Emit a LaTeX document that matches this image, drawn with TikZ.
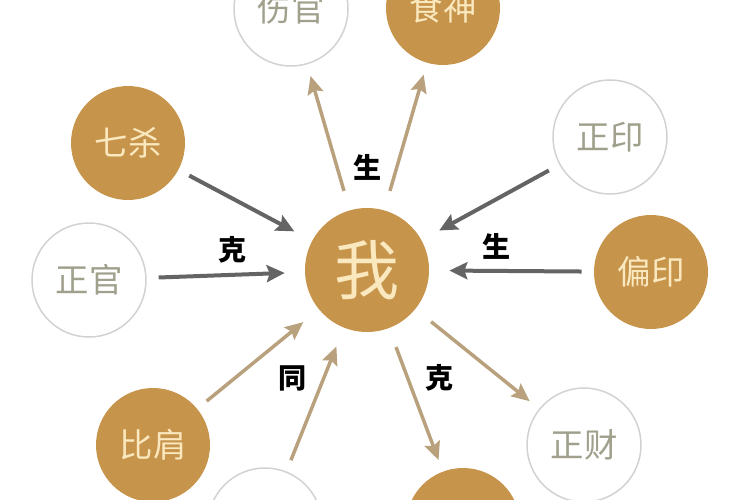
\documentclass[tikz,border=0pt]{standalone}
\usepackage{fontspec}
\newfontfamily\cjk{Noto Sans CJK SC}
\usepackage{xcolor}
\usetikzlibrary{arrows.meta}
\definecolor{goldfill}{HTML}{C7944C}
\definecolor{cream}{HTML}{FAE8BE}
\definecolor{inkgray}{HTML}{A0A08C}
\definecolor{ringgray}{HTML}{D2D2D2}
\definecolor{darkarrow}{HTML}{646464}
\definecolor{tanarrow}{HTML}{B8A17C}
\tikzset{
  goldnode/.style={circle,fill=goldfill,inner sep=0pt,minimum size=22.8mm,
    text=cream,font=\cjk\fontsize{19}{19}\selectfont},
  ringnode/.style={circle,fill=white,draw=ringgray,line width=0.3mm,inner sep=0pt,
    minimum size=22.8mm,text=inkgray,font=\cjk\fontsize{19}{19}\selectfont},
  selfnode/.style={goldnode,minimum size=24.8mm,font=\cjk\fontsize{37}{37}\selectfont},
  rel/.style={font=\cjk\bfseries\fontsize{16}{16}\selectfont},
  darr/.style={line width=0.8mm,draw=darkarrow,
    -{Stealth[length=3.6mm,width=3.4mm,inset=0.6mm]}},
  tarr/.style={line width=0.7mm,draw=tanarrow,
    -{Stealth[length=3.6mm,width=3.2mm,inset=0.6mm]}},
  tome/.style={shorten <=2.4mm,shorten >=4mm},
  fromme/.style={shorten <=4mm,shorten >=2.4mm}
}
\begin{document}
\begin{tikzpicture}[x=0.2mm,y=-0.2mm]
  \useasboundingbox (0,0) rectangle (750,500);
  \clip (0,0) rectangle (750,500);
  \node[selfnode] (wo) at (367,270) {我};
  \node[goldnode] (qisha) at (128,143) {七杀};
  \node[ringnode] (zhengguan) at (89,280) {正官};
  \node[ringnode] (zhengyin) at (610,137) {正印};
  \node[goldnode] (pianyin) at (651,272) {偏印};
  \node[ringnode] (shangguan) at (291,9) {伤官};
  \node[goldnode] (shishen) at (443,8) {食神};
  \node[goldnode] (bijian) at (153,445) {比肩};
  \node[ringnode] (jiecai) at (265,525) {};
  \node[goldnode] (piancai) at (463,525) {};
  \node[ringnode] (zhengcai) at (584,445) {正财};
  \draw[darr,tome] (qisha) -- (wo);
  \draw[darr,tome] (zhengguan) -- (wo);
  \draw[darr,tome] (zhengyin) -- (wo);
  \draw[darr,tome] (pianyin) -- (wo);
  \draw[tarr,fromme] (wo) -- (shangguan);
  \draw[tarr,fromme] (wo) -- (shishen);
  \draw[tarr,tome] (bijian) -- (wo);
  \draw[tarr,tome] (jiecai) -- (wo);
  \draw[tarr,fromme] (wo) -- (piancai);
  \draw[tarr,fromme] (wo) -- (zhengcai);
  \node[rel] (keleft) at (233,250) {克};
  \node[rel] (shengright) at (497,246) {生};
  \node[rel] (shengtop) at (368,167) {生};
  \node[rel] (tong) at (293,378) {同};
  \node[rel] (keright) at (440,378) {克};
\end{tikzpicture}
\end{document}
